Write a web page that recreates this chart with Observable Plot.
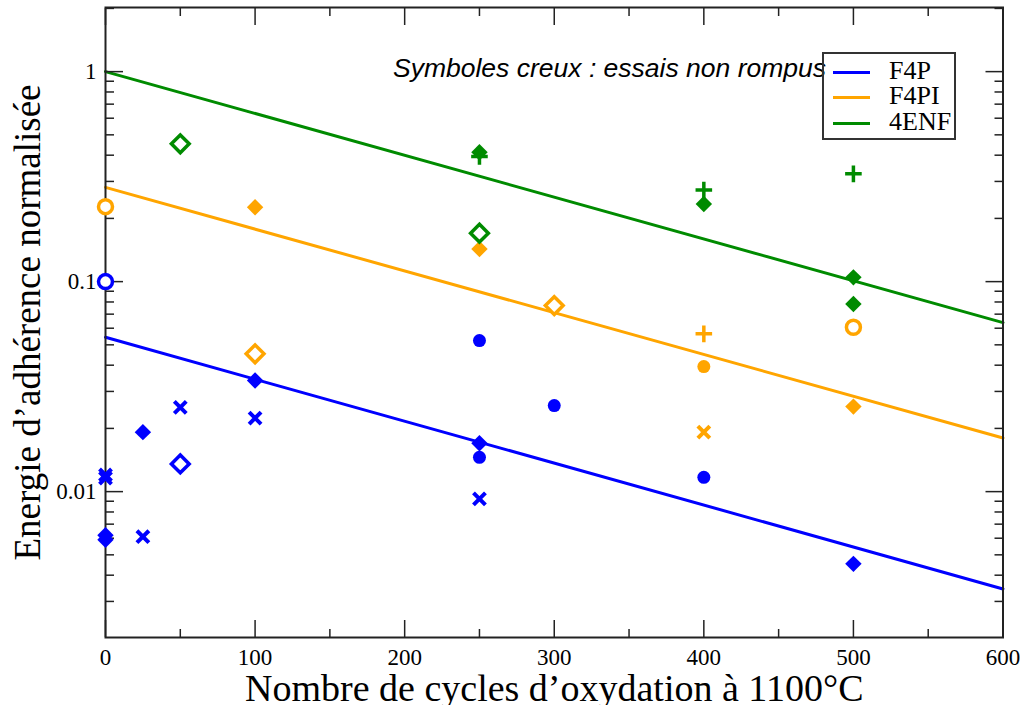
<!DOCTYPE html>
<html>
<head>
<meta charset="utf-8">
<script src="https://cdn.jsdelivr.net/npm/d3@7"></script>
<script src="https://cdn.jsdelivr.net/npm/@observablehq/plot@0.6"></script>
<style>
  html, body { margin: 0; padding: 0; background: #fff; }
  #chart { position: relative; width: 1024px; height: 705px; overflow: hidden; }
  #note { position: absolute; left: 393px; top: 53px; font: italic 26.5px "Liberation Sans", Arial, sans-serif; color: #000; white-space: nowrap; }
  #legend { position: absolute; left: 822px; top: 52px; width: 130px; height: 84px; border: 2px solid #333; background: transparent; }
  .item { position: absolute; left: 9px; height: 24px; font: 26px "Liberation Serif", "Times New Roman", serif; white-space: nowrap; }
  .item .sw { position: absolute; left: 0; top: 10px; width: 37px; height: 3px; }
  .item .lb { position: absolute; left: 56px; top: -5px; }
</style>
</head>
<body>
<div id="chart"></div>
<script>
// ---- data ----
const seriesNames = ["F4P", "F4PI", "4ENF"];
const seriesColors = ["#0000ff", "#ffa500", "#008b00"];

// fitted exponential trend lines (values at 0 and 600 cycles)
const fitX = [0, 600];
const fitF4P = [0.0543, 0.00344];
const fitF4PI = [0.281, 0.0180];
const fit4ENF = [1.0, 0.0638];

// measured points
const pointSeries = [
  "F4P","F4P","F4P","F4P","F4P","F4P","F4P","F4P","F4P","F4P","F4P","F4P","F4P","F4P","F4P","F4P","F4P","F4P",
  "F4PI","F4PI","F4PI","F4PI","F4PI","F4PI","F4PI","F4PI","F4PI","F4PI",
  "4ENF","4ENF","4ENF","4ENF","4ENF","4ENF","4ENF","4ENF","4ENF"
];
const pointCycles = [
  0, 0, 0, 0, 0, 25, 25, 50, 50, 100, 100, 250, 250, 250, 250, 300, 400, 500,
  0, 100, 100, 250, 300, 400, 400, 400, 500, 500,
  50, 250, 250, 250, 400, 400, 500, 500, 500
];
const pointEnergy = [
  0.1, 0.0116, 0.0120, 0.0062, 0.0059, 0.0192, 0.0061, 0.0252, 0.01355, 0.0338, 0.0224, 0.0524, 0.0170, 0.01457, 0.00923, 0.0257, 0.0117, 0.00453,
  0.2275, 0.226, 0.0453, 0.143, 0.0769, 0.0564, 0.0394, 0.0192, 0.0606, 0.0254,
  0.453, 0.413, 0.394, 0.170, 0.273, 0.234, 0.326, 0.1048, 0.0783
];
const pointMarker = [
  "circle","times","times","diamond","diamond","diamond","times","times","diamond","diamond","times","circle","diamond","circle","times","circle","circle","diamond",
  "circle","diamond","diamond","diamond","diamond","plus","circle","times","circle","diamond",
  "diamond","diamond","plus","diamond","plus","diamond","plus","diamond","diamond"
];
// hollow symbol = test not broken ("essai non rompu")
const pointHollow = [
  true,false,false,false,false,false,false,false,true,false,false,false,false,false,false,false,false,false,
  true,false,true,false,true,false,false,false,true,false,
  true,false,false,true,false,false,false,false,false
];

const xTicks = [0, 100, 200, 300, 400, 500, 600];
const xMinorTicks = [50, 150, 250, 350, 450, 550];
const yTicks = [0.01, 0.1, 1];
const yTickLabels = ["0.01", "0.1", "1"];
const yMinorTicks = [0.003,0.004,0.005,0.006,0.007,0.008,0.009,0.02,0.03,0.04,0.05,0.06,0.07,0.08,0.09,0.2,0.3,0.4,0.5,0.6,0.7,0.8,0.9,2];

const xTitle = "Nombre de cycles d\u2019oxydation à 1100°C";
const yTitle = "Energie d\u2019adhérence normalisée";
const noteText = "Symboles creux : essais non rompus";

// ---- tables ----
const fitValues = [fitF4P, fitF4PI, fit4ENF];
const fitRows = seriesNames.flatMap((s, k) => fitX.map((x, i) => ({series: s, cycles: x, energy: fitValues[k][i]})));
const pts = pointCycles.map((x, i) => ({series: pointSeries[i], cycles: x, energy: pointEnergy[i], marker: pointMarker[i], hollow: pointHollow[i]}));
const sel = (m, h) => pts.filter(d => d.marker === m && d.hollow === h);

const tickColor = "#222";
const serif = "'Liberation Serif', 'Times New Roman', serif";

const chart = Plot.plot({
  width: 1024,
  height: 705,
  marginLeft: 105,
  marginRight: 21.5,
  marginTop: 7,
  marginBottom: 68,
  style: {fontFamily: serif, background: "#fff", color: "#000"},
  x: {domain: [0, 600]},
  y: {type: "log", domain: [0.00202, 2.02]},
  color: {domain: seriesNames, range: seriesColors},
  marks: [
    Plot.line(fitRows, {x: "cycles", y: "energy", z: "series", stroke: "series", strokeWidth: 3}),
    Plot.frame({stroke: tickColor, strokeWidth: 2}),
    // inward major / minor ticks on all four sides
    Plot.axisX({anchor: "bottom", ticks: xTicks, tickSize: -17, text: null, label: null, stroke: tickColor, strokeWidth: 1.5}),
    Plot.axisX({anchor: "top", ticks: xTicks, tickSize: -17, text: null, label: null, stroke: tickColor, strokeWidth: 1.5}),
    Plot.axisX({anchor: "bottom", ticks: xMinorTicks, tickSize: -8, text: null, label: null, stroke: tickColor, strokeWidth: 1.5}),
    Plot.axisX({anchor: "top", ticks: xMinorTicks, tickSize: -8, text: null, label: null, stroke: tickColor, strokeWidth: 1.5}),
    Plot.axisY({anchor: "left", ticks: yTicks, tickSize: -18, text: null, label: null, stroke: tickColor, strokeWidth: 1.5}),
    Plot.axisY({anchor: "right", ticks: yTicks, tickSize: -18, text: null, label: null, stroke: tickColor, strokeWidth: 1.5}),
    Plot.axisY({anchor: "left", ticks: yMinorTicks, tickSize: -9, text: null, label: null, stroke: tickColor, strokeWidth: 1.5}),
    Plot.axisY({anchor: "right", ticks: yMinorTicks, tickSize: -9, text: null, label: null, stroke: tickColor, strokeWidth: 1.5}),
    // tick labels
    Plot.axisX({anchor: "bottom", ticks: xTicks, tickSize: 0, tickPadding: 11, label: null, fontSize: 23, fill: "#000", tickFormat: d => String(d)}),
    Plot.axisY({anchor: "left", ticks: yTicks, tickSize: 0, tickPadding: 9, label: null, fontSize: 23, fill: "#000", tickFormat: d => yTickLabels[yTicks.indexOf(d)]}),
    // axis titles
    Plot.text([xTitle], {frameAnchor: "bottom", dy: 51, textAnchor: "middle", lineAnchor: "middle", fontSize: 38, fill: "#000", text: d => d}),
    Plot.text([yTitle], {frameAnchor: "left", dx: -77, rotate: -90, textAnchor: "middle", lineAnchor: "middle", fontSize: 37, fill: "#000", text: d => d}),
    // points
    Plot.dot(sel("circle", false), {x: "cycles", y: "energy", fill: "series", r: 6.5, symbol: "circle"}),
    Plot.dot(sel("circle", true), {x: "cycles", y: "energy", stroke: "series", fill: "#fff", strokeWidth: 3.5, r: 7, symbol: "circle"}),
    Plot.dot(sel("diamond", false), {x: "cycles", y: "energy", fill: "series", r: 7.4, symbol: "diamond2"}),
    Plot.dot(sel("diamond", true), {x: "cycles", y: "energy", stroke: "series", fill: "#fff", strokeWidth: 3.5, r: 8, symbol: "diamond2"}),
    Plot.dot(sel("times", false), {x: "cycles", y: "energy", stroke: "series", strokeWidth: 4, r: 5.5, symbol: "times"}),
    Plot.dot(sel("plus", false), {x: "cycles", y: "energy", stroke: "series", strokeWidth: 3.5, r: 5.4, symbol: "plus"})
  ]
});

const host = document.getElementById("chart");
host.appendChild(chart);

// annotation
const note = document.createElement("div");
note.id = "note";
note.textContent = noteText;
host.appendChild(note);

// legend
const legend = document.createElement("div");
legend.id = "legend";
const itemTops = [7, 32, 58];
seriesNames.forEach((s, i) => {
  const it = document.createElement("div");
  it.className = "item";
  it.style.top = itemTops[i] + "px";
  const sw = document.createElement("div");
  sw.className = "sw";
  sw.style.background = seriesColors[i];
  const lb = document.createElement("div");
  lb.className = "lb";
  lb.textContent = s;
  it.appendChild(sw);
  it.appendChild(lb);
  legend.appendChild(it);
});
host.appendChild(legend);
</script>
</body>
</html>
